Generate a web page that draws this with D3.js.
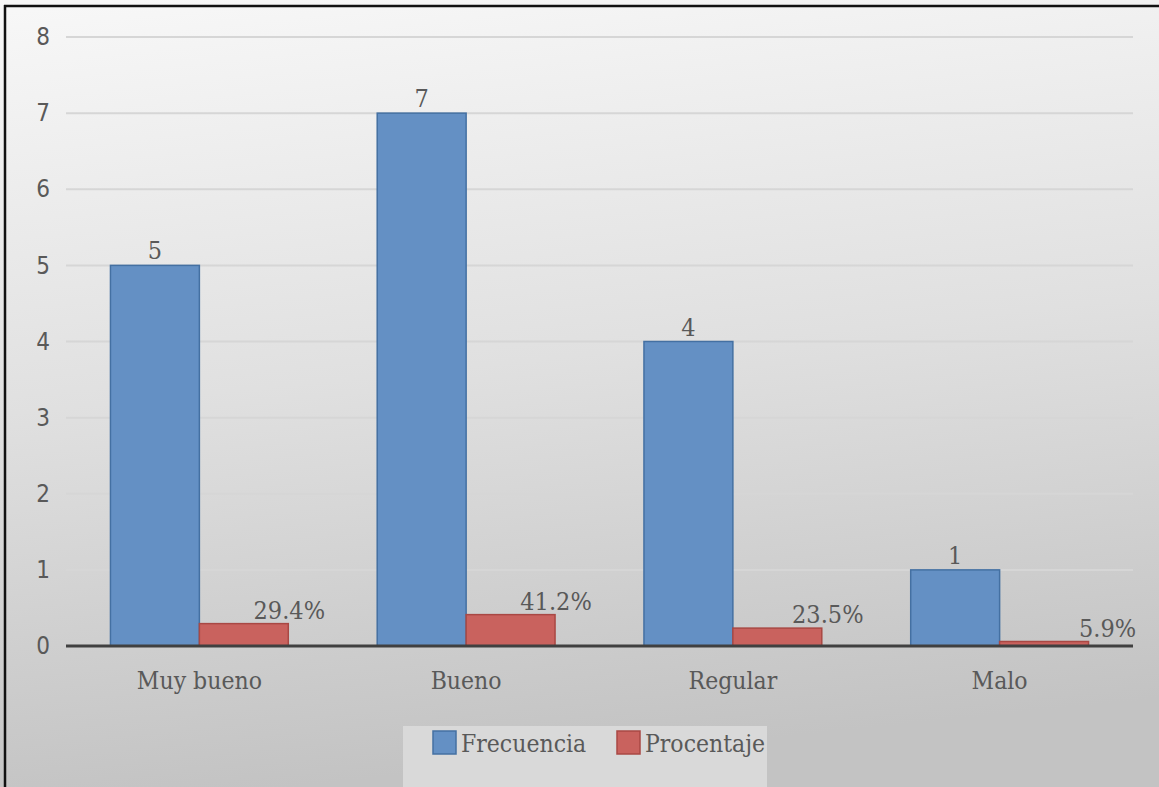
<!DOCTYPE html>
<html>
<head>
<meta charset="utf-8">
<script src="https://cdn.jsdelivr.net/npm/d3@7"></script>
<style>
  html, body { margin: 0; padding: 0; background: #ffffff; }
  svg { display: block; }
  text { font-family: "DejaVu Serif Condensed", "DejaVu Serif", serif; fill: #595959; }
</style>
</head>
<body>
<svg id="chart" width="1159" height="787"></svg>
<script>
// Chart data
const categories = ["Muy bueno", "Bueno", "Regular", "Malo"];
const frecuencia = [5, 7, 4, 1];
const procentaje = [0.294, 0.412, 0.235, 0.059];
const procentajeLabels = ["29.4%", "41.2%", "23.5%", "5.9%"];
const seriesNames = ["Frecuencia", "Procentaje"];
const yTicks = [0, 1, 2, 3, 4, 5, 6, 7, 8];

const W = 1159, H = 787;
const margin = { left: 66, right: 26, top: 37, bottom: 141 };
const colors = { Frecuencia: "#6490c4", Procentaje: "#c9625e" };
const strokes = { Frecuencia: "#4470a2", Procentaje: "#a94844" };

const svg = d3.select("#chart");
const defs = svg.append("defs");

// Soft grey backdrop, lighter at the top
const bg = defs.append("linearGradient").attr("id", "bg")
  .attr("x1", "0.1").attr("y1", "0").attr("x2", "0.25").attr("y2", "1");
bg.append("stop").attr("offset", "0").attr("stop-color", "#f7f7f7");
bg.append("stop").attr("offset", "0.5").attr("stop-color", "#e0e0e0");
bg.append("stop").attr("offset", "1").attr("stop-color", "#c3c3c3");

svg.append("rect").attr("x", 0).attr("y", 0).attr("width", W).attr("height", H)
  .attr("fill", "url(#bg)");

// Frame (top and left edges)
svg.append("line").attr("x1", 4).attr("x2", W).attr("y1", 6).attr("y2", 6)
  .attr("stroke", "#111").attr("stroke-width", 2.5);
svg.append("line").attr("x1", 5).attr("x2", 5).attr("y1", 5).attr("y2", H)
  .attr("stroke", "#111").attr("stroke-width", 2.5);

const x0 = d3.scaleBand().domain(categories)
  .range([margin.left, W - margin.right]).paddingInner(1 / 3).paddingOuter(1 / 6);
const x1 = d3.scaleBand().domain(seriesNames).range([0, x0.bandwidth()]);
const y = d3.scaleLinear().domain([0, 8]).range([H - margin.bottom, margin.top]);

// Gridlines
svg.append("g").selectAll("line").data(yTicks.filter(t => t > 0)).join("line")
  .attr("x1", margin.left).attr("x2", W - margin.right)
  .attr("y1", d => y(d)).attr("y2", d => y(d))
  .attr("stroke", "#d6d6d6").attr("stroke-width", 2);

// Y axis tick labels
const yAxis = d3.axisLeft(y).tickValues(yTicks).tickSize(0).tickPadding(0);
const gy = svg.append("g").attr("transform", `translate(${margin.left - 16},0)`).call(yAxis);
gy.select(".domain").remove();
gy.selectAll("text").attr("font-size", 24).attr("fill", "#595959")
  .style("font-family", "'DejaVu Sans Condensed', 'DejaVu Sans', sans-serif");

// Bars
const groups = svg.append("g").selectAll("g").data(categories).join("g")
  .attr("transform", d => `translate(${x0(d)},0)`);

groups.append("rect")
  .attr("x", x1("Frecuencia")).attr("width", x1.bandwidth())
  .attr("y", (d, i) => y(frecuencia[i]))
  .attr("height", (d, i) => y(0) - y(frecuencia[i]))
  .attr("fill", colors.Frecuencia).attr("stroke", strokes.Frecuencia).attr("stroke-width", 1.5);

groups.append("rect")
  .attr("x", x1("Procentaje")).attr("width", x1.bandwidth())
  .attr("y", (d, i) => y(procentaje[i]))
  .attr("height", (d, i) => y(0) - y(procentaje[i]))
  .attr("fill", colors.Procentaje).attr("stroke", strokes.Procentaje).attr("stroke-width", 1.5);

// Value labels
groups.append("text")
  .attr("x", x1("Frecuencia") + x1.bandwidth() / 2)
  .attr("y", (d, i) => y(frecuencia[i]) - 6)
  .attr("text-anchor", "middle").attr("font-size", 25)
  .text((d, i) => frecuencia[i]);

groups.append("text")
  .attr("x", (d, i) => x1("Procentaje") + x1.bandwidth() + (i === 3 ? 19 : i === 2 ? 6 : 1))
  .attr("y", (d, i) => y(procentaje[i]) - 5)
  .attr("text-anchor", "middle").attr("font-size", 25)
  .text((d, i) => procentajeLabels[i]);

// Baseline
svg.append("line").attr("x1", margin.left).attr("x2", W - margin.right)
  .attr("y1", y(0)).attr("y2", y(0))
  .attr("stroke", "#404040").attr("stroke-width", 3);

// Category labels
const xAxis = d3.axisBottom(x0).tickSize(0).tickPadding(0);
const gx = svg.append("g").attr("transform", `translate(0,${y(0) + 43})`).call(xAxis);
gx.select(".domain").remove();
gx.selectAll("text").attr("font-size", 24.5).attr("fill", "#595959").attr("dy", 0)
  .style("font-family", "'DejaVu Serif Condensed', 'DejaVu Serif', serif");

// Legend
const legend = svg.append("g");
legend.append("rect").attr("x", 403).attr("y", 726).attr("width", 364).attr("height", 62)
  .attr("fill", "#d9d9d9");
const legendX = [433, 617];
seriesNames.forEach((s, i) => {
  legend.append("rect").attr("x", legendX[i]).attr("y", 731).attr("width", 23).attr("height", 23)
    .attr("fill", colors[s]).attr("stroke", strokes[s]).attr("stroke-width", 1.5);
  legend.append("text").attr("x", legendX[i] + 28).attr("y", 752)
    .attr("font-size", 24.5).text(s);
});
</script>
</body>
</html>
